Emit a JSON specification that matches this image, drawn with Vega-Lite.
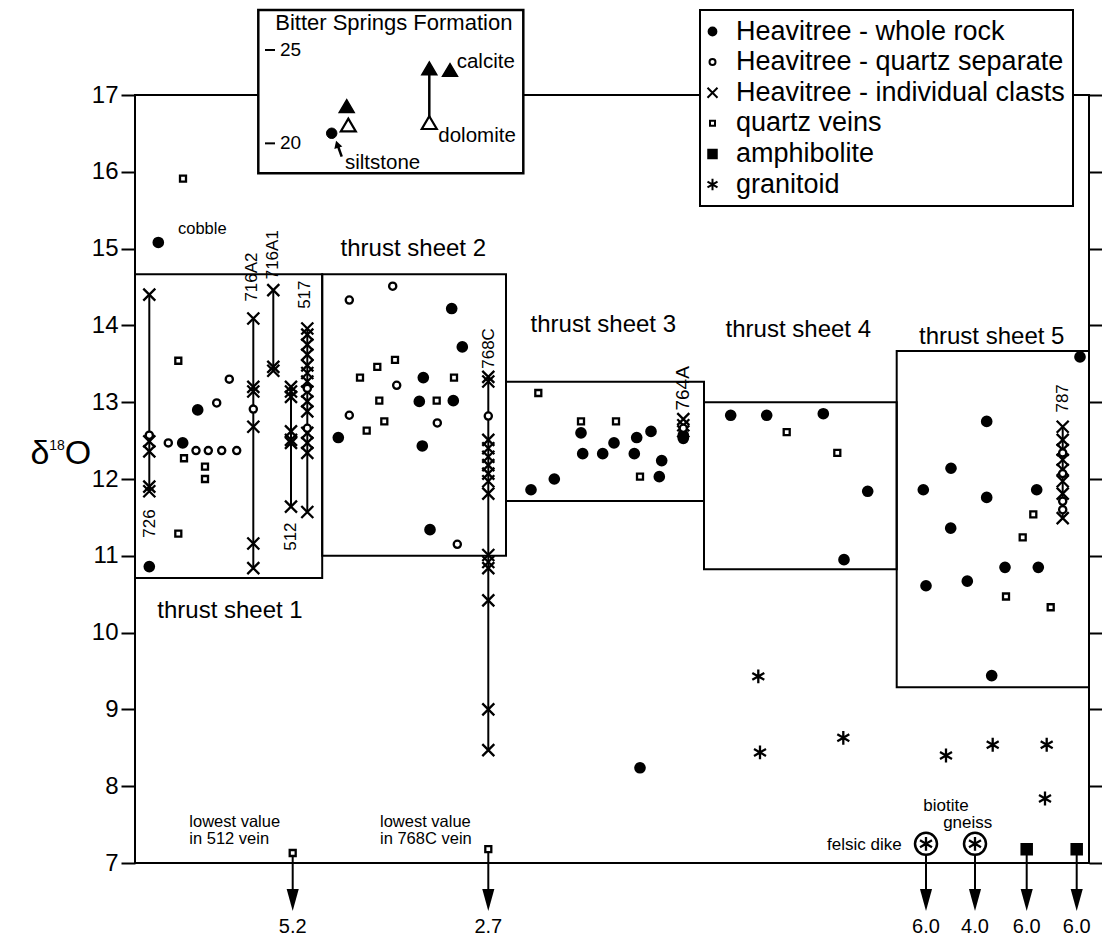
{
"$schema": "https://vega.github.io/schema/vega-lite/v6.json",
"width": 954,
"height": 768,
"autosize": "none",
"padding": {"left": 135, "top": 95, "right": 13, "bottom": 77},
"background": "white",
"config": {
  "font": "Liberation Sans",
  "view": {"stroke": "black", "strokeWidth": 2},
  "legend": {"labelFontSize": 27, "labelColor": "black", "labelOffset": 10, "symbolOffset": -9, "padding": 8, "rowPadding": 2.6, "symbolSize": 100, "symbolStrokeWidth": 2, "symbolStrokeColor": "black", "strokeColor": "black", "strokeWidth": 2, "fillColor": "white", "labelLimit": 500}
},
"datasets": {
  "boxes": [
    {"x": 0, "x2": 18.72, "top": 14.665, "bottom": 10.711},
    {"x": 18.72, "x2": 37.1, "top": 14.665, "bottom": 11.0},
    {"x": 37.1, "x2": 56.9, "top": 13.267, "bottom": 11.714},
    {"x": 56.9, "x2": 76.17, "top": 13.0, "bottom": 10.824},
    {"x": 76.17, "x2": 95.4, "top": 13.667, "bottom": 9.288}
  ],
  "clastlines": [
    {"x": 1.43, "top": 14.40, "bottom": 11.84},
    {"x": 11.83, "top": 14.09, "bottom": 10.84},
    {"x": 13.83, "top": 14.46, "bottom": 13.41},
    {"x": 15.6, "top": 13.20, "bottom": 11.64},
    {"x": 17.23, "top": 13.96, "bottom": 11.57},
    {"x": 35.33, "top": 13.33, "bottom": 8.47},
    {"x": 92.77, "top": 12.68, "bottom": 11.49}
  ],
  "arrows": [
    {"x": 15.77, "d18O": 7.13, "label": "5.2"},
    {"x": 35.33, "d18O": 7.18, "label": "2.7"},
    {"x": 79.1, "d18O": 7.25, "label": "6.0"},
    {"x": 84.0, "d18O": 7.25, "label": "4.0"},
    {"x": 89.17, "d18O": 7.18, "label": "6.0"},
    {"x": 94.17, "d18O": 7.18, "label": "6.0"}
  ],
  "rings": [
    {"x": 79.1, "d18O": 7.25},
    {"x": 84.0, "d18O": 7.25}
  ],
  "points": [
    {"x": 2.33, "d18O": 15.08, "type": "Heavitree - whole rock"},
    {"x": 4.8, "d18O": 15.91, "type": "quartz veins"},
    {"x": 1.43, "d18O": 14.40, "type": "Heavitree - individual clasts"},
    {"x": 1.43, "d18O": 12.57, "type": "Heavitree - quartz separate"},
    {"x": 1.43, "d18O": 12.49, "type": "Heavitree - individual clasts"},
    {"x": 1.43, "d18O": 12.36, "type": "Heavitree - individual clasts"},
    {"x": 1.43, "d18O": 11.90, "type": "Heavitree - individual clasts"},
    {"x": 1.43, "d18O": 11.84, "type": "Heavitree - individual clasts"},
    {"x": 1.43, "d18O": 10.86, "type": "Heavitree - whole rock"},
    {"x": 3.33, "d18O": 12.47, "type": "Heavitree - quartz separate"},
    {"x": 4.77, "d18O": 12.47, "type": "Heavitree - whole rock"},
    {"x": 4.33, "d18O": 13.54, "type": "quartz veins"},
    {"x": 4.9, "d18O": 12.27, "type": "quartz veins"},
    {"x": 4.33, "d18O": 11.29, "type": "quartz veins"},
    {"x": 6.27, "d18O": 12.90, "type": "Heavitree - whole rock"},
    {"x": 6.1, "d18O": 12.37, "type": "Heavitree - quartz separate"},
    {"x": 7.33, "d18O": 12.37, "type": "Heavitree - quartz separate"},
    {"x": 8.67, "d18O": 12.37, "type": "Heavitree - quartz separate"},
    {"x": 10.17, "d18O": 12.37, "type": "Heavitree - quartz separate"},
    {"x": 7.0, "d18O": 12.16, "type": "quartz veins"},
    {"x": 7.0, "d18O": 12.0, "type": "quartz veins"},
    {"x": 8.17, "d18O": 12.99, "type": "Heavitree - quartz separate"},
    {"x": 9.43, "d18O": 13.30, "type": "Heavitree - quartz separate"},
    {"x": 11.83, "d18O": 14.09, "type": "Heavitree - individual clasts"},
    {"x": 11.83, "d18O": 13.20, "type": "Heavitree - individual clasts"},
    {"x": 11.83, "d18O": 13.14, "type": "Heavitree - individual clasts"},
    {"x": 11.83, "d18O": 12.91, "type": "Heavitree - quartz separate"},
    {"x": 11.83, "d18O": 12.68, "type": "Heavitree - individual clasts"},
    {"x": 11.83, "d18O": 11.16, "type": "Heavitree - individual clasts"},
    {"x": 11.83, "d18O": 10.84, "type": "Heavitree - individual clasts"},
    {"x": 13.83, "d18O": 14.46, "type": "Heavitree - individual clasts"},
    {"x": 13.83, "d18O": 13.46, "type": "Heavitree - individual clasts"},
    {"x": 13.83, "d18O": 13.41, "type": "Heavitree - individual clasts"},
    {"x": 15.6, "d18O": 13.20, "type": "Heavitree - individual clasts"},
    {"x": 15.6, "d18O": 13.14, "type": "Heavitree - individual clasts"},
    {"x": 15.6, "d18O": 13.07, "type": "Heavitree - individual clasts"},
    {"x": 15.6, "d18O": 12.62, "type": "Heavitree - individual clasts"},
    {"x": 15.6, "d18O": 12.51, "type": "Heavitree - individual clasts"},
    {"x": 15.6, "d18O": 12.47, "type": "Heavitree - individual clasts"},
    {"x": 15.6, "d18O": 11.64, "type": "Heavitree - individual clasts"},
    {"x": 17.23, "d18O": 13.96, "type": "Heavitree - individual clasts"},
    {"x": 17.23, "d18O": 13.88, "type": "Heavitree - individual clasts"},
    {"x": 17.23, "d18O": 13.75, "type": "Heavitree - individual clasts"},
    {"x": 17.23, "d18O": 13.62, "type": "Heavitree - individual clasts"},
    {"x": 17.23, "d18O": 13.48, "type": "Heavitree - individual clasts"},
    {"x": 17.23, "d18O": 13.38, "type": "Heavitree - individual clasts"},
    {"x": 17.23, "d18O": 13.27, "type": "Heavitree - individual clasts"},
    {"x": 17.23, "d18O": 13.14, "type": "Heavitree - individual clasts"},
    {"x": 17.23, "d18O": 13.01, "type": "Heavitree - individual clasts"},
    {"x": 17.23, "d18O": 12.88, "type": "Heavitree - individual clasts"},
    {"x": 17.23, "d18O": 12.60, "type": "Heavitree - individual clasts"},
    {"x": 17.23, "d18O": 12.47, "type": "Heavitree - individual clasts"},
    {"x": 17.23, "d18O": 12.34, "type": "Heavitree - individual clasts"},
    {"x": 17.23, "d18O": 11.57, "type": "Heavitree - individual clasts"},
    {"x": 17.23, "d18O": 13.18, "type": "Heavitree - quartz separate"},
    {"x": 17.23, "d18O": 12.66, "type": "Heavitree - quartz separate"},
    {"x": 21.43, "d18O": 14.33, "type": "Heavitree - quartz separate"},
    {"x": 25.77, "d18O": 14.51, "type": "Heavitree - quartz separate"},
    {"x": 31.67, "d18O": 14.22, "type": "Heavitree - whole rock"},
    {"x": 32.73, "d18O": 13.72, "type": "Heavitree - whole rock"},
    {"x": 26.0, "d18O": 13.55, "type": "quartz veins"},
    {"x": 24.23, "d18O": 13.46, "type": "quartz veins"},
    {"x": 22.5, "d18O": 13.32, "type": "quartz veins"},
    {"x": 26.17, "d18O": 13.22, "type": "Heavitree - quartz separate"},
    {"x": 28.83, "d18O": 13.32, "type": "Heavitree - whole rock"},
    {"x": 31.9, "d18O": 13.32, "type": "quartz veins"},
    {"x": 24.43, "d18O": 13.02, "type": "quartz veins"},
    {"x": 28.43, "d18O": 13.01, "type": "Heavitree - whole rock"},
    {"x": 30.17, "d18O": 13.02, "type": "quartz veins"},
    {"x": 31.83, "d18O": 13.02, "type": "Heavitree - whole rock"},
    {"x": 21.43, "d18O": 12.83, "type": "Heavitree - quartz separate"},
    {"x": 24.93, "d18O": 12.75, "type": "quartz veins"},
    {"x": 23.17, "d18O": 12.63, "type": "quartz veins"},
    {"x": 30.23, "d18O": 12.73, "type": "Heavitree - quartz separate"},
    {"x": 20.33, "d18O": 12.54, "type": "Heavitree - whole rock"},
    {"x": 28.73, "d18O": 12.43, "type": "Heavitree - whole rock"},
    {"x": 29.5, "d18O": 11.34, "type": "Heavitree - whole rock"},
    {"x": 32.23, "d18O": 11.15, "type": "Heavitree - quartz separate"},
    {"x": 35.33, "d18O": 13.33, "type": "Heavitree - individual clasts"},
    {"x": 35.33, "d18O": 13.27, "type": "Heavitree - individual clasts"},
    {"x": 35.33, "d18O": 12.82, "type": "Heavitree - quartz separate"},
    {"x": 35.33, "d18O": 12.51, "type": "Heavitree - individual clasts"},
    {"x": 35.33, "d18O": 12.40, "type": "Heavitree - individual clasts"},
    {"x": 35.33, "d18O": 12.29, "type": "Heavitree - individual clasts"},
    {"x": 35.33, "d18O": 12.18, "type": "Heavitree - individual clasts"},
    {"x": 35.33, "d18O": 12.07, "type": "Heavitree - individual clasts"},
    {"x": 35.33, "d18O": 11.97, "type": "Heavitree - individual clasts"},
    {"x": 35.33, "d18O": 11.81, "type": "Heavitree - individual clasts"},
    {"x": 35.33, "d18O": 11.01, "type": "Heavitree - individual clasts"},
    {"x": 35.33, "d18O": 10.92, "type": "Heavitree - individual clasts"},
    {"x": 35.33, "d18O": 10.84, "type": "Heavitree - individual clasts"},
    {"x": 35.33, "d18O": 10.42, "type": "Heavitree - individual clasts"},
    {"x": 35.33, "d18O": 9.0, "type": "Heavitree - individual clasts"},
    {"x": 35.33, "d18O": 8.47, "type": "Heavitree - individual clasts"},
    {"x": 40.33, "d18O": 13.12, "type": "quartz veins"},
    {"x": 44.6, "d18O": 12.75, "type": "quartz veins"},
    {"x": 44.6, "d18O": 12.60, "type": "Heavitree - whole rock"},
    {"x": 48.1, "d18O": 12.75, "type": "quartz veins"},
    {"x": 50.17, "d18O": 12.54, "type": "Heavitree - whole rock"},
    {"x": 51.6, "d18O": 12.62, "type": "Heavitree - whole rock"},
    {"x": 47.9, "d18O": 12.47, "type": "Heavitree - whole rock"},
    {"x": 44.77, "d18O": 12.33, "type": "Heavitree - whole rock"},
    {"x": 46.77, "d18O": 12.33, "type": "Heavitree - whole rock"},
    {"x": 49.93, "d18O": 12.33, "type": "Heavitree - whole rock"},
    {"x": 52.67, "d18O": 12.24, "type": "Heavitree - whole rock"},
    {"x": 50.5, "d18O": 12.03, "type": "quartz veins"},
    {"x": 52.43, "d18O": 12.03, "type": "Heavitree - whole rock"},
    {"x": 41.93, "d18O": 12.0, "type": "Heavitree - whole rock"},
    {"x": 39.6, "d18O": 11.86, "type": "Heavitree - whole rock"},
    {"x": 50.5, "d18O": 8.24, "type": "Heavitree - whole rock"},
    {"x": 54.83, "d18O": 12.57, "type": "Heavitree - whole rock"},
    {"x": 54.83, "d18O": 12.53, "type": "Heavitree - whole rock"},
    {"x": 54.83, "d18O": 12.78, "type": "Heavitree - individual clasts"},
    {"x": 54.83, "d18O": 12.70, "type": "Heavitree - individual clasts"},
    {"x": 54.83, "d18O": 12.62, "type": "Heavitree - individual clasts"},
    {"x": 54.83, "d18O": 12.66, "type": "Heavitree - quartz separate"},
    {"x": 59.57, "d18O": 12.83, "type": "Heavitree - whole rock"},
    {"x": 63.17, "d18O": 12.83, "type": "Heavitree - whole rock"},
    {"x": 68.83, "d18O": 12.85, "type": "Heavitree - whole rock"},
    {"x": 65.17, "d18O": 12.61, "type": "quartz veins"},
    {"x": 70.23, "d18O": 12.34, "type": "quartz veins"},
    {"x": 73.27, "d18O": 11.84, "type": "Heavitree - whole rock"},
    {"x": 70.9, "d18O": 10.95, "type": "Heavitree - whole rock"},
    {"x": 62.33, "d18O": 9.43, "type": "granitoid"},
    {"x": 62.5, "d18O": 8.44, "type": "granitoid"},
    {"x": 70.83, "d18O": 8.63, "type": "granitoid"},
    {"x": 94.5, "d18O": 13.59, "type": "Heavitree - whole rock"},
    {"x": 85.17, "d18O": 12.75, "type": "Heavitree - whole rock"},
    {"x": 81.6, "d18O": 12.14, "type": "Heavitree - whole rock"},
    {"x": 78.83, "d18O": 11.86, "type": "Heavitree - whole rock"},
    {"x": 85.17, "d18O": 11.76, "type": "Heavitree - whole rock"},
    {"x": 90.17, "d18O": 11.86, "type": "Heavitree - whole rock"},
    {"x": 89.83, "d18O": 11.54, "type": "quartz veins"},
    {"x": 81.57, "d18O": 11.36, "type": "Heavitree - whole rock"},
    {"x": 88.77, "d18O": 11.24, "type": "quartz veins"},
    {"x": 87.0, "d18O": 10.85, "type": "Heavitree - whole rock"},
    {"x": 90.33, "d18O": 10.85, "type": "Heavitree - whole rock"},
    {"x": 83.23, "d18O": 10.67, "type": "Heavitree - whole rock"},
    {"x": 79.1, "d18O": 10.61, "type": "Heavitree - whole rock"},
    {"x": 87.1, "d18O": 10.47, "type": "quartz veins"},
    {"x": 91.57, "d18O": 10.33, "type": "quartz veins"},
    {"x": 85.67, "d18O": 9.44, "type": "Heavitree - whole rock"},
    {"x": 92.77, "d18O": 12.68, "type": "Heavitree - individual clasts"},
    {"x": 92.77, "d18O": 12.51, "type": "Heavitree - individual clasts"},
    {"x": 92.77, "d18O": 12.38, "type": "Heavitree - individual clasts"},
    {"x": 92.77, "d18O": 12.25, "type": "Heavitree - individual clasts"},
    {"x": 92.77, "d18O": 12.12, "type": "Heavitree - individual clasts"},
    {"x": 92.77, "d18O": 11.97, "type": "Heavitree - individual clasts"},
    {"x": 92.77, "d18O": 11.81, "type": "Heavitree - individual clasts"},
    {"x": 92.77, "d18O": 11.49, "type": "Heavitree - individual clasts"},
    {"x": 92.77, "d18O": 12.34, "type": "Heavitree - quartz separate"},
    {"x": 92.77, "d18O": 12.07, "type": "Heavitree - quartz separate"},
    {"x": 92.77, "d18O": 11.71, "type": "Heavitree - quartz separate"},
    {"x": 92.77, "d18O": 11.60, "type": "Heavitree - quartz separate"},
    {"x": 81.1, "d18O": 8.40, "type": "granitoid"},
    {"x": 85.77, "d18O": 8.54, "type": "granitoid"},
    {"x": 91.17, "d18O": 8.54, "type": "granitoid"},
    {"x": 91.0, "d18O": 7.84, "type": "granitoid"},
    {"x": 79.1, "d18O": 7.25, "type": "granitoid"},
    {"x": 84.0, "d18O": 7.25, "type": "granitoid"},
    {"x": 89.17, "d18O": 7.18, "type": "amphibolite"},
    {"x": 94.17, "d18O": 7.18, "type": "amphibolite"},
    {"x": 15.77, "d18O": 7.13, "type": "quartz veins"},
    {"x": 35.33, "d18O": 7.18, "type": "quartz veins"}
  ],
  "samplelabels": [
    {"x": 1.5, "d18O": 11.42, "label": "726"},
    {"x": 11.67, "d18O": 14.63, "label": "716A2"},
    {"x": 13.83, "d18O": 14.92, "label": "716A1"},
    {"x": 15.6, "d18O": 11.25, "label": "512"},
    {"x": 17.0, "d18O": 14.40, "label": "517"},
    {"x": 35.43, "d18O": 13.70, "label": "768C"},
    {"x": 92.77, "d18O": 13.05, "label": "787"}
  ],
  "biglabel": [
    {"x": 54.83, "d18O": 13.18, "label": "764A"}
  ],
  "sheets": [
    {"x": 9.5, "d18O": 10.285, "label": "thrust sheet 1"},
    {"x": 27.83, "d18O": 15.0, "label": "thrust sheet 2"},
    {"x": 46.83, "d18O": 14.005, "label": "thrust sheet 3"},
    {"x": 66.33, "d18O": 13.94, "label": "thrust sheet 4"},
    {"x": 85.67, "d18O": 13.853, "label": "thrust sheet 5"}
  ],
  "notesleft": [
    {"x": 4.3, "d18O": 15.26, "label": "cobble"},
    {"x": 5.43, "d18O": 7.538, "label": "lowest value"},
    {"x": 5.43, "d18O": 7.308, "label": "in 512 vein"},
    {"x": 24.5, "d18O": 7.538, "label": "lowest value"},
    {"x": 24.5, "d18O": 7.308, "label": "in 768C vein"}
  ],
  "notesright": [
    {"x": 76.67, "d18O": 7.234, "label": "felsic dike"}
  ],
  "notescenter": [
    {"x": 81.1, "d18O": 7.746, "label": "biotite"},
    {"x": 83.27, "d18O": 7.525, "label": "gneiss"}
  ],
  "ytitle_big": [
    {"x": -9.5, "d18O": 12.195, "label": "δ"},
    {"x": -5.7, "d18O": 12.195, "label": "O"}
  ],
  "ytitle_small": [
    {"x": -7.8, "d18O": 12.378, "label": "18"}
  ],
  "inset_filled": [
    {"x": 21.17, "v": 22.0},
    {"x": 29.43, "v": 24.02},
    {"x": 31.5, "v": 23.93}
  ],
  "inset_open": [
    {"x": 21.33, "v": 20.98},
    {"x": 29.43, "v": 21.11}
  ],
  "inset_rock": [
    {"x": 19.67, "v": 20.54}
  ],
  "inset_line": [
    {"x": 29.43, "v": 24.02, "v2": 21.11}
  ],
  "inset_labels": [
    {"x": 32.17, "v": 24.37, "label": "calcite"},
    {"x": 30.33, "v": 20.39, "label": "dolomite"},
    {"x": 21.0, "v": 18.96, "label": "siltstone"}
  ],
  "inset_ticks": [
    {"v": 25, "label": "25"},
    {"v": 20, "label": "20"}
  ]
},
"resolve": {"scale": {"y": "independent"}},
"layer": [
  {
    "layer": [
      {
        "data": {"name": "boxes"},
        "mark": {"type": "rect", "fill": "transparent", "stroke": "black", "strokeWidth": 2},
        "encoding": {
          "x": {"field": "x", "type": "quantitative", "scale": {"domain": [0, 95.4], "nice": false, "zero": false}, "axis": null},
          "x2": {"field": "x2"},
          "y": {"field": "top", "type": "quantitative", "title": null,
                "scale": {"domain": [7, 17], "nice": false, "zero": false},
                "axis": {"values": [7, 8, 9, 10, 11, 12, 13, 14, 15, 16, 17], "format": "d", "title": null, "tickSize": 14, "tickWidth": 2, "tickColor": "black", "labelFontSize": 24, "labelColor": "black", "labelPadding": 3, "domain": false, "grid": false}},
          "y2": {"field": "bottom"}
        }
      },
      {
        "data": {"name": "clastlines"},
        "mark": {"type": "rule", "color": "black", "strokeWidth": 2},
        "encoding": {
          "x": {"field": "x", "type": "quantitative"},
          "y": {"field": "top", "type": "quantitative", "title": null},
          "y2": {"field": "bottom"}
        }
      },
      {
        "data": {"name": "arrows"},
        "mark": {"type": "rule", "color": "black", "strokeWidth": 2},
        "encoding": {
          "x": {"field": "x", "type": "quantitative"},
          "y": {"field": "d18O", "type": "quantitative", "title": null},
          "y2": {"datum": 6.6}
        }
      },
      {
        "data": {"name": "arrows"},
        "mark": {"type": "point", "shape": "M-0.55,-1L0.55,-1L0,1Z", "size": 484, "filled": true, "color": "black", "opacity": 1},
        "encoding": {
          "x": {"field": "x", "type": "quantitative"},
          "y": {"datum": 6.518, "type": "quantitative", "title": null}
        }
      },
      {
        "data": {"name": "arrows"},
        "mark": {"type": "text", "fontSize": 20, "color": "black", "baseline": "middle", "align": "center"},
        "encoding": {
          "x": {"field": "x", "type": "quantitative"},
          "y": {"datum": 6.17, "type": "quantitative", "title": null},
          "text": {"field": "label"}
        }
      },
      {
        "data": {"name": "rings"},
        "mark": {"type": "point", "shape": "circle", "size": 484, "fill": "white", "stroke": "black", "strokeWidth": 2.5, "opacity": 1},
        "encoding": {
          "x": {"field": "x", "type": "quantitative"},
          "y": {"field": "d18O", "type": "quantitative", "title": null}
        }
      },
      {
        "data": {"name": "points"},
        "mark": {"type": "point", "size": 144, "strokeWidth": 2.3, "opacity": 1},
        "encoding": {
          "x": {"field": "x", "type": "quantitative"},
          "y": {"field": "d18O", "type": "quantitative", "title": null},
          "shape": {"field": "type", "type": "nominal",
            "scale": {"domain": ["Heavitree - whole rock", "Heavitree - quartz separate", "Heavitree - individual clasts", "quartz veins", "amphibolite", "granitoid"],
                      "range": ["M0.78,0A0.78,0.78,0,1,1,-0.78,0A0.78,0.78,0,1,1,0.78,0Z", "M0.6,0A0.6,0.6,0,1,1,-0.6,0A0.6,0.6,0,1,1,0.6,0Z", "M-1,-1L1,1M-1,1L1,-1", "M-0.5,-0.5L0.5,-0.5L0.5,0.5L-0.5,0.5Z", "M-0.85,-0.85L0.85,-0.85L0.85,0.85L-0.85,0.85Z", "M0,-1.15L0,1.15M-1,-0.58L1,0.58M-1,0.58L1,-0.58"]},
            "legend": {"title": null, "orient": "none", "legendX": 565, "legendY": -85}},
          "fill": {"field": "type", "type": "nominal",
            "scale": {"domain": ["Heavitree - whole rock", "Heavitree - quartz separate", "Heavitree - individual clasts", "quartz veins", "amphibolite", "granitoid"],
                      "range": ["black", "white", "white", "white", "black", "white"]},
            "legend": {"title": null, "orient": "none", "legendX": 565, "legendY": -85}},
          "stroke": {"field": "type", "type": "nominal",
            "scale": {"domain": ["Heavitree - whole rock", "Heavitree - quartz separate", "Heavitree - individual clasts", "quartz veins", "amphibolite", "granitoid"],
                      "range": ["black", "black", "black", "black", "black", "black"]},
            "legend": {"title": null, "orient": "none", "legendX": 565, "legendY": -85}}
        }
      },
      {
        "data": {"name": "samplelabels"},
        "mark": {"type": "text", "fontSize": 17, "angle": 270, "align": "center", "baseline": "middle", "color": "black"},
        "encoding": {
          "x": {"field": "x", "type": "quantitative"},
          "y": {"field": "d18O", "type": "quantitative", "title": null},
          "text": {"field": "label"}
        }
      },
      {
        "data": {"name": "biglabel"},
        "mark": {"type": "text", "fontSize": 19, "angle": 270, "align": "center", "baseline": "middle", "color": "black"},
        "encoding": {
          "x": {"field": "x", "type": "quantitative"},
          "y": {"field": "d18O", "type": "quantitative", "title": null},
          "text": {"field": "label"}
        }
      },
      {
        "data": {"name": "sheets"},
        "mark": {"type": "text", "fontSize": 24, "align": "center", "baseline": "middle", "color": "black"},
        "encoding": {
          "x": {"field": "x", "type": "quantitative"},
          "y": {"field": "d18O", "type": "quantitative", "title": null},
          "text": {"field": "label"}
        }
      },
      {
        "data": {"name": "notesleft"},
        "mark": {"type": "text", "fontSize": 16.5, "align": "left", "baseline": "middle", "color": "black"},
        "encoding": {
          "x": {"field": "x", "type": "quantitative"},
          "y": {"field": "d18O", "type": "quantitative", "title": null},
          "text": {"field": "label"}
        }
      },
      {
        "data": {"name": "notesright"},
        "mark": {"type": "text", "fontSize": 17, "align": "right", "baseline": "middle", "color": "black"},
        "encoding": {
          "x": {"field": "x", "type": "quantitative"},
          "y": {"field": "d18O", "type": "quantitative", "title": null},
          "text": {"field": "label"}
        }
      },
      {
        "data": {"name": "notescenter"},
        "mark": {"type": "text", "fontSize": 17, "align": "center", "baseline": "middle", "color": "black"},
        "encoding": {
          "x": {"field": "x", "type": "quantitative"},
          "y": {"field": "d18O", "type": "quantitative", "title": null},
          "text": {"field": "label"}
        }
      },
      {
        "data": {"name": "ytitle_big"},
        "mark": {"type": "text", "fontSize": 34, "align": "center", "baseline": "alphabetic", "color": "black"},
        "encoding": {
          "x": {"field": "x", "type": "quantitative"},
          "y": {"field": "d18O", "type": "quantitative", "title": null},
          "text": {"field": "label"}
        }
      },
      {
        "data": {"name": "ytitle_small"},
        "mark": {"type": "text", "fontSize": 14, "align": "center", "baseline": "alphabetic", "color": "black"},
        "encoding": {
          "x": {"field": "x", "type": "quantitative"},
          "y": {"field": "d18O", "type": "quantitative", "title": null},
          "text": {"field": "label"}
        }
      }
    ]
  },
  {
    "data": {"values": [{}]},
    "mark": {"type": "rule", "color": "black", "strokeWidth": 2},
    "encoding": {
      "y": {"datum": 7, "type": "quantitative",
            "scale": {"domain": [7, 17], "nice": false, "zero": false},
            "axis": {"orient": "right", "values": [7, 8, 9, 10, 11, 12, 13, 14, 15, 16, 17], "labels": false, "tickSize": 13, "tickWidth": 2, "tickColor": "black", "domain": false, "grid": false, "title": null}}
    }
  },
  {
    "layer": [
      {
        "data": {"values": [{}]},
        "mark": {"type": "rect", "fill": "white", "stroke": "black", "strokeWidth": 2.5},
        "encoding": {
          "x": {"datum": 12.33, "type": "quantitative"},
          "x2": {"datum": 38.83},
          "y": {"datum": 27.14, "type": "quantitative", "scale": {"domain": [-18.549, 22.59], "nice": false, "zero": false}, "axis": null},
          "y2": {"datum": 18.40}
        }
      },
      {
        "data": {"values": [{"label": "Bitter Springs Formation"}]},
        "mark": {"type": "text", "fontSize": 22, "align": "center", "baseline": "middle", "color": "black"},
        "encoding": {
          "x": {"datum": 25.88, "type": "quantitative"},
          "y": {"datum": 26.43, "type": "quantitative"},
          "text": {"field": "label"}
        }
      },
      {
        "data": {"name": "inset_ticks"},
        "mark": {"type": "rule", "color": "black", "strokeWidth": 2},
        "encoding": {
          "x": {"datum": 13.0, "type": "quantitative"},
          "x2": {"datum": 14.0},
          "y": {"field": "v", "type": "quantitative"}
        }
      },
      {
        "data": {"name": "inset_ticks"},
        "mark": {"type": "text", "fontSize": 19, "align": "left", "baseline": "middle", "color": "black"},
        "encoding": {
          "x": {"datum": 14.5, "type": "quantitative"},
          "y": {"field": "v", "type": "quantitative"},
          "text": {"field": "label"}
        }
      },
      {
        "data": {"name": "inset_line"},
        "mark": {"type": "rule", "color": "black", "strokeWidth": 2.5},
        "encoding": {
          "x": {"field": "x", "type": "quantitative"},
          "y": {"field": "v", "type": "quantitative"},
          "y2": {"field": "v2"}
        }
      },
      {
        "data": {"name": "inset_open"},
        "mark": {"type": "point", "shape": "M0,-0.85L1,0.85L-1,0.85Z", "size": 225, "fill": "white", "stroke": "black", "strokeWidth": 2.2, "opacity": 1},
        "encoding": {
          "x": {"field": "x", "type": "quantitative"},
          "y": {"field": "v", "type": "quantitative"}
        }
      },
      {
        "data": {"name": "inset_filled"},
        "mark": {"type": "point", "shape": "M0,-0.85L1,0.85L-1,0.85Z", "size": 225, "fill": "black", "stroke": "black", "strokeWidth": 1.5, "opacity": 1},
        "encoding": {
          "x": {"field": "x", "type": "quantitative"},
          "y": {"field": "v", "type": "quantitative"}
        }
      },
      {
        "data": {"name": "inset_rock"},
        "mark": {"type": "point", "shape": "circle", "size": 110, "fill": "black", "stroke": "black", "strokeWidth": 1, "opacity": 1},
        "encoding": {
          "x": {"field": "x", "type": "quantitative"},
          "y": {"field": "v", "type": "quantitative"}
        }
      },
      {
        "data": {"values": [{}]},
        "mark": {"type": "rule", "color": "black", "strokeWidth": 2.5},
        "encoding": {
          "x": {"datum": 20.67, "type": "quantitative"},
          "x2": {"datum": 20.27},
          "y": {"datum": 19.29, "type": "quantitative"},
          "y2": {"datum": 19.9}
        }
      },
      {
        "data": {"values": [{}]},
        "mark": {"type": "point", "shape": "triangle-up", "size": 70, "angle": -18, "filled": true, "color": "black", "opacity": 1},
        "encoding": {
          "x": {"datum": 20.22, "type": "quantitative"},
          "y": {"datum": 19.95, "type": "quantitative"}
        }
      },
      {
        "data": {"name": "inset_labels"},
        "mark": {"type": "text", "fontSize": 20.5, "align": "left", "baseline": "middle", "color": "black"},
        "encoding": {
          "x": {"field": "x", "type": "quantitative"},
          "y": {"field": "v", "type": "quantitative"},
          "text": {"field": "label"}
        }
      }
    ]
  }
]
}
